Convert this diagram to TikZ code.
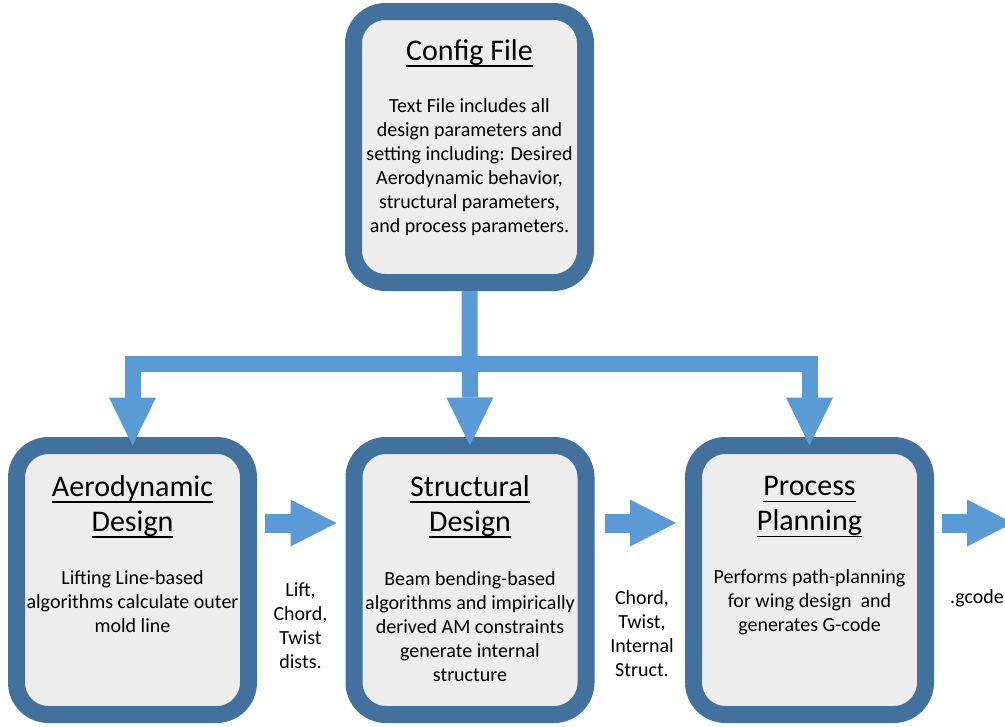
\documentclass[tikz,border=0pt]{standalone}
\usepackage{fontspec}
\setmainfont{Carlito}
\usetikzlibrary{arrows.meta}
\definecolor{bord}{HTML}{41719C}
\definecolor{boxfill}{HTML}{EDEDED}
\definecolor{arr}{HTML}{5B9BD5}
\newcommand{\ulin}[1]{\leavevmode\setbox0=\hbox{#1}\rlap{\rule[-4.8pt]{\wd0}{1.3pt}}\box0}
\begin{document}
\begin{tikzpicture}[x=0.75pt,y=-0.75pt,
  box/.style={draw=bord, fill=boxfill, line width=12.75pt, rounded corners=24pt,
    minimum width=174pt, minimum height=201.75pt, inner sep=0pt, outer sep=0pt},
  ttl/.style={font=\fontsize{22.5}{26.25}\selectfont, align=center, inner sep=0pt},
  body/.style={font=\fontsize{15}{18}\selectfont, align=center, inner sep=0pt},
  tree/.style={draw=arr, line width=12pt},
  harrow/.style={draw=arr, line width=14.25pt, -{Triangle[width=35.25pt,length=34.5pt,line width=0pt]}},
]
\useasboundingbox (0,0) rectangle (1005,726);
% boxes
\node[box, minimum height=203.25pt] (cfg) at (469.5,147) {};
\node[box] (aero) at (132.5,580) {};
\node[box] (str) at (470,580) {};
\node[box] (proc) at (809.5,580) {};
% texts
\node[ttl] (cfgT) at (469.5,53.5) {\ulin{Config File}};
\node[body] (cfgB) at (469.5,167.5) {Text File includes all\\design parameters and\\setting including: Desired\\Aerodynamic behavior,\\structural parameters,\\and process parameters.};
\node[ttl] (aeroT) at (132.5,507) {\ulin{Aerodynamic}\\\ulin{Design}};
\node[body] (aeroB) at (132.5,602) {Lifting Line-based\\algorithms calculate outer\\mold line};
\node[ttl] (strT) at (470,507) {\ulin{Structural}\\\ulin{Design}};
\node[body] (strB) at (470,626.5) {Beam bending-based\\algorithms and impirically\\derived AM constraints\\generate internal\\structure};
\node[ttl] (procT) at (809.5,507) {\ulin{Process}\\\ulin{Planning}};
\node[body] (procB) at (809.5,602) {Performs path-planning\\for wing design\ \ and\\generates G-code};
\node[body] (lbl1) at (300.5,626) {Lift,\\Chord,\\Twist\\dists.};
\node[body] (lbl2) at (642,634) {Chord,\\Twist,\\Internal\\Struct.};
\node[body] (lbl3) at (977,598) {.gcode};
% tree connectors
\coordinate (bar) at (470,364);
\draw[tree, {Triangle[width=35.25pt,length=36pt,line width=0pt]}-{Triangle[width=35.25pt,length=36pt,line width=0pt]}]
  (aero.north) -- (aero.north |- bar) -- (proc.north |- bar) -- (proc.north);
\draw[tree, shorten <=6.375pt, -{Triangle[width=35.25pt,length=36pt,line width=0pt]}] (cfg.south) -- (str.north);
% horizontal arrows
\draw[harrow, shorten <=12.375pt, shorten >=13.125pt] ([yshift=42.75pt]aero.east) -- ([yshift=42.75pt]str.west);
\draw[harrow, shorten <=13.875pt, shorten >=13.125pt] ([yshift=42.75pt]str.east) -- ([yshift=42.75pt]proc.west);
\coordinate (gend) at (1013,523);
\draw[harrow, shorten <=12.375pt] ([yshift=42.75pt]proc.east) -- (gend);
\end{tikzpicture}
\end{document}
